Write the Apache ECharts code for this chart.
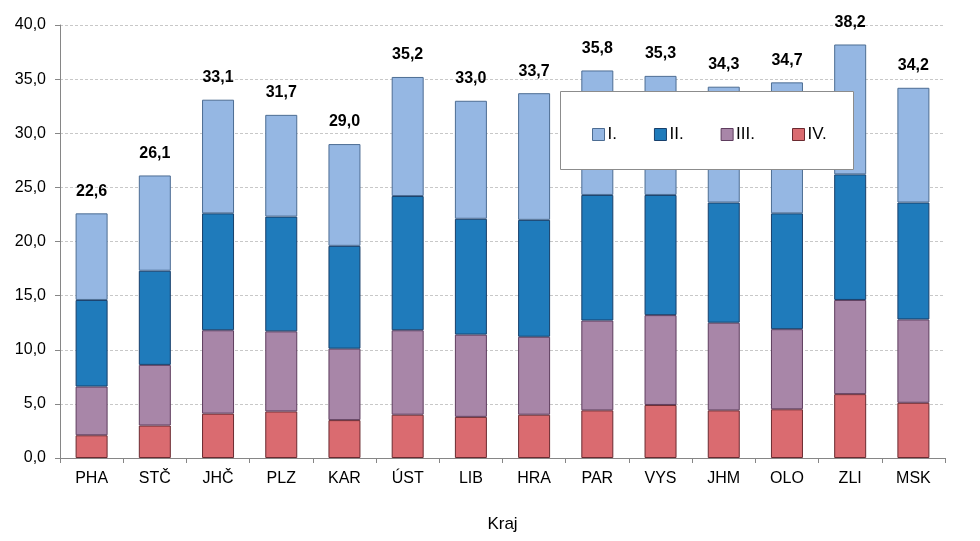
<!DOCTYPE html>
<html>
<head>
<meta charset="utf-8">
<script src="https://cdn.jsdelivr.net/npm/echarts@6/dist/echarts.min.js"></script>
<style>
  html, body { margin: 0; padding: 0; background: #fff; }
  #chart { width: 980px; height: 541px; }
</style>
</head>
<body>
<div id="chart"></div>
<script>
// kraje
var regions = ['PHA', 'STČ', 'JHČ', 'PLZ', 'KAR', 'ÚST', 'LIB', 'HRA', 'PAR', 'VYS', 'JHM', 'OLO', 'ZLI', 'MSK'];
// stupně (zdola nahoru: IV., III., II., I.)
var stIV = [2.1, 3.0, 4.1, 4.3, 3.5, 4.0, 3.8, 4.0, 4.4, 4.9, 4.4, 4.5, 5.9, 5.1];
var stIII = [4.5, 5.6, 7.7, 7.4, 6.6, 7.8, 7.6, 7.2, 8.3, 8.3, 8.1, 7.4, 8.7, 7.7];
var stII = [8.0, 8.7, 10.8, 10.6, 9.5, 12.4, 10.7, 10.8, 11.6, 11.1, 11.1, 10.7, 11.6, 10.8];
var stI = [8.0, 8.8, 10.5, 9.4, 9.4, 11.0, 10.9, 11.7, 11.5, 11.0, 10.7, 12.1, 12.0, 10.6];
// součty nad sloupci
var totals = [22.6, 26.1, 33.1, 31.7, 29.0, 35.2, 33.0, 33.7, 35.8, 35.3, 34.3, 34.7, 38.2, 34.2];

var chart = echarts.init(document.getElementById('chart'));

function fmt(v) {
  return v.toFixed(1).replace('.', ',');
}

var font = 'Liberation Sans, Arial, sans-serif';

function barSeries(name, data, color, border) {
  return {
    name: name,
    type: 'bar',
    stack: 'kraj',
    barWidth: 32,
    data: data,
    itemStyle: { color: color, borderColor: border, borderWidth: 1 },
    emphasis: { disabled: true }
  };
}

var seriesI = barSeries('I.', stI, '#95b7e3', '#4d6d93');
seriesI.label = {
  show: true,
  position: 'top',
  distance: 14,
  fontFamily: font,
  fontSize: 16,
  fontWeight: 'bold',
  color: '#000',
  formatter: function (p) { return fmt(totals[p.dataIndex]); }
};

var option = {
  animation: false,
  backgroundColor: '#fff',
  textStyle: { fontFamily: font },
  grid: { left: 60, right: 35, top: 25, bottom: 83 },
  graphic: [{
    type: 'rect',
    z: 50,
    shape: { x: 560.5, y: 91.5, width: 293, height: 78 },
    style: { fill: '#fff', stroke: '#8c8c8c', lineWidth: 1 }
  }],
  legend: {
    z: 60,
    left: 587,
    top: 121,
    itemWidth: 12,
    itemHeight: 12,
    itemGap: 37,
    icon: 'rect',
    data: ['I.', 'II.', 'III.', 'IV.'],
    textStyle: { fontFamily: font, fontSize: 17, color: '#000', padding: [0, 0, 0, -2] },
    itemStyle: { borderWidth: 1 }
  },
  xAxis: {
    type: 'category',
    data: regions,
    name: 'Kraj',
    nameLocation: 'middle',
    nameGap: 58,
    nameTextStyle: { fontFamily: font, fontSize: 17, color: '#000' },
    axisLine: { lineStyle: { color: '#868686' } },
    axisTick: { show: true, length: 5, alignWithLabel: false, lineStyle: { color: '#868686' } },
    axisLabel: { fontFamily: font, fontSize: 16, color: '#000', margin: 13 }
  },
  yAxis: {
    type: 'value',
    min: 0,
    max: 40,
    interval: 5,
    axisLine: { show: true, lineStyle: { color: '#868686' } },
    axisTick: { show: true, length: 5, lineStyle: { color: '#868686' } },
    axisLabel: {
      fontFamily: font, fontSize: 16, color: '#000', margin: 14,
      formatter: function (v) { return fmt(v); }
    },
    splitLine: { lineStyle: { color: '#c8c8c8', type: [3, 2] } }
  },
  series: [
    barSeries('IV.', stIV, '#da6b70', '#6b2a30'),
    barSeries('III.', stIII, '#a886a8', '#5e3d5e'),
    barSeries('II.', stII, '#1f7bbb', '#173f6b'),
    seriesI
  ]
};

chart.setOption(option);
</script>
</body>
</html>
